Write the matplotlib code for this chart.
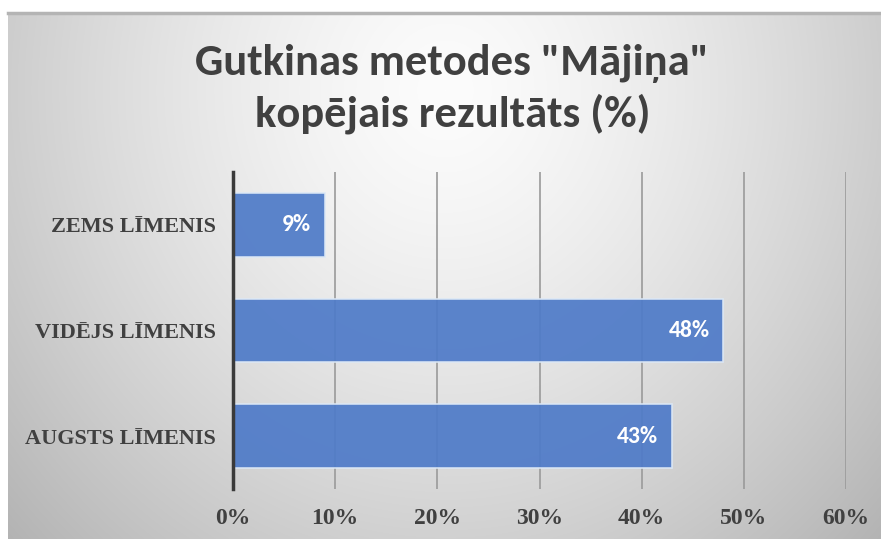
import numpy as np
import matplotlib.pyplot as plt
from matplotlib import font_manager

categories = ["AUGSTS LĪMENIS", "VIDĒJS LĪMENIS", "ZEMS LĪMENIS"]
values = [43, 48, 9]
xticks = [0, 10, 20, 30, 40, 50, 60]
title1 = 'Gutkinas metodes "Mājiņa"'
title2 = "kopējais rezultāts (%)"

names = {f.name for f in font_manager.fontManager.ttflist}
title_font = next(n for n in ["Carlito", "Liberation Sans Narrow", "Roboto Condensed", "Open Sans", "DejaVu Sans"] if n in names)
label_font = next(n for n in ["Carlito", "Open Sans", "DejaVu Sans"] if n in names)
serif = "Liberation Serif"

W, H = 881, 539
fig = plt.figure(figsize=(W / 100, H / 100), dpi=100)
fig.patch.set_facecolor("white")

# background panel with soft radial gradient
bg = fig.add_axes([8 / W, 0, 1 - 8 / W, 1 - 13 / H])
bg.set_axis_off()
yy, xx = np.mgrid[13:H, 8:W]
d = np.sqrt(((xx - 445) / 500.0) ** 2 + ((yy - 90) / 540.0) ** 2)
val = 252 - 56 * np.clip(d, 0, 1.25) ** 1.4
img = np.dstack([val, val, val]) / 255.0
bg.imshow(img, aspect="auto", extent=[0, 1, 0, 1], origin="upper")
bg.set_xlim(0, 1)
bg.set_ylim(0, 1)
bg.plot([0, 1], [1, 1], color="#b4b4b4", lw=2.5, transform=bg.transAxes, clip_on=False)

ax = fig.add_axes([233 / W, 1 - 489 / H, (846 - 233) / W, (489 - 172) / H])
ax.patch.set_alpha(0)
ypos = np.arange(len(categories))
bars = ax.barh(ypos, values, height=0.6, color="#4F7BC8", alpha=0.93,
               edgecolor="#dce8f6", linewidth=1.2, zorder=3)
for y, v in zip(ypos, values):
    ax.annotate(f"{v}%", (v, y), xytext=(-10, 0), textcoords="offset points",
                ha="right", va="center", color="white", fontsize=17,
                fontweight="bold", family=label_font, zorder=4)

ax.set_xlim(0, 60)
ax.set_ylim(-0.5, 2.5)
ax.set_xticks(xticks)
ax.set_xticklabels([f"{t}%" for t in xticks])
ax.set_yticks(ypos)
ax.set_yticklabels(categories)
ax.grid(axis="x", color="#9a9a9a", linewidth=1.2, zorder=1)
ax.tick_params(axis="both", length=0, colors="#404040")
ax.tick_params(axis="x", pad=14)
ax.tick_params(axis="y", pad=12)
for lab in ax.get_xticklabels():
    lab.set_family(serif)
    lab.set_fontweight("bold")
    lab.set_fontsize(17)
for lab in ax.get_yticklabels():
    lab.set_family(serif)
    lab.set_fontweight("bold")
    lab.set_fontsize(16)
for s in ["top", "right", "bottom"]:
    ax.spines[s].set_visible(False)
ax.spines["left"].set_color("#3a3a3a")
ax.spines["left"].set_linewidth(2.5)
ax.spines["left"].set_zorder(5)

fig.text(452 / W, 1 - 75 / H, title1, ha="center", va="baseline", fontsize=32,
         fontweight="bold", color="#404040", family=title_font)
fig.text(453 / W, 1 - 127 / H, title2, ha="center", va="baseline", fontsize=32,
         fontweight="bold", color="#404040", family=title_font)

fig.savefig("out.png", dpi=100)
